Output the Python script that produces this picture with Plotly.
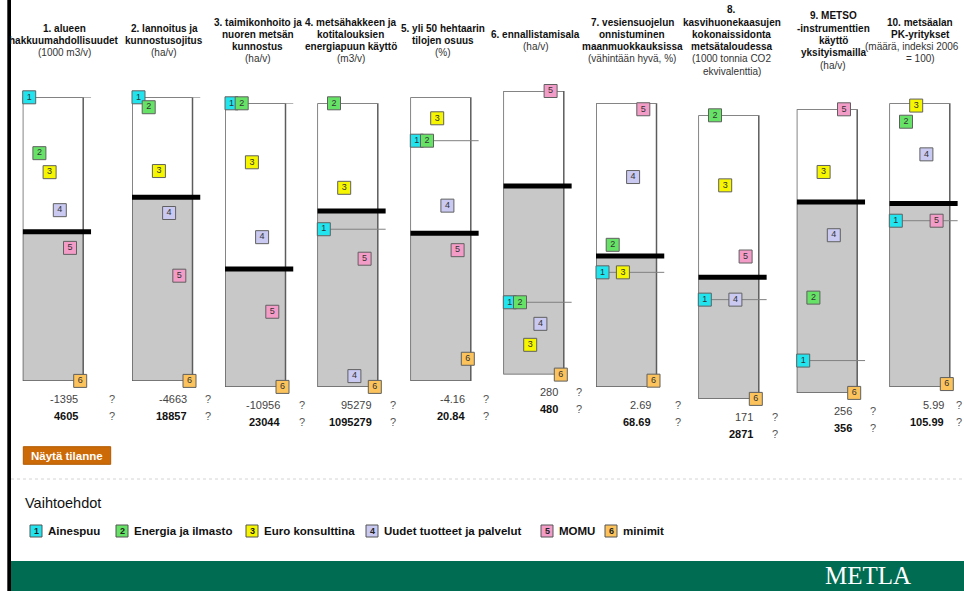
import plotly.graph_objects as go

W, H = 964, 591

# ---------------- data ----------------
TITLE_LINES = [
    ["1. alueen", "hakkuumahdollisuudet"],
    ["2. lannoitus ja", "kunnostusojitus"],
    ["3. taimikonhoito ja", "nuoren metsän", "kunnostus"],
    ["4. metsähakkeen ja", "kotitalouksien", "energiapuun käyttö"],
    ["5. yli 50 hehtaarin", "tilojen osuus"],
    ["6. ennallistamisala"],
    ["7. vesiensuojelun", "onnistuminen", "maanmuokkauksissa"],
    ["8.", "kasvihuonekaasujen", "kokonaissidonta", "metsätaloudessa"],
    ["9. METSO", "-instrumenttien", "käyttö", "yksityismailla"],
    ["10. metsäalan", "PK-yritykset"],
]
UNIT_LINES = [
    ["(1000 m3/v)"],
    ["(ha/v)"],
    ["(ha/v)"],
    ["(m3/v)"],
    ["(%)"],
    ["(ha/v)"],
    ["(vähintään hyvä, %)"],
    ["(1000 tonnia CO2", "ekvivalenttia)"],
    ["(ha/v)"],
    ["(määrä, indeksi 2006", "= 100)"],
]

SERIES_NAMES = ["Ainespuu", "Energia ja ilmasto", "Euro konsulttina",
                "Uudet tuotteet ja palvelut", "MOMU", "minimit"]

# positions of each alternative on each indicator scale (0 = bottom, 100 = top)
AINESPUU = [100, 100, 100, 55.6, 84.7, 25.5, 40.4, 35.0, 11.4, 58.6]
ENERGIA  = [80.3, 96.5, 100, 100, 84.7, 25.5, 50.1, 100, 33.6, 93.5]
EURO     = [73.6, 74.0, 79.2, 70.2, 92.6, 10.5, 40.4, 75.3, 77.9, 99.2]
UUDET    = [60.2, 59.2, 52.8, 3.8, 61.8, 17.9, 74.0, 35.0, 55.6, 82.0]
MOMU     = [46.9, 37.1, 26.5, 45.2, 46.1, 100, 97.9, 50.2, 100, 58.6]
MINIMIT  = [0, 0, 0, 0, 7.8, 0, 2.2, 0, 0, 1.0]
THRESHOLD = [52.6, 64.8, 41.6, 62.0, 52.1, 66.5, 46.2, 42.9, 67.3, 64.7]

CHANGE = [-1395, -4663, -10956, 95279, -4.16, 280, 2.69, 171, 256, 5.99]
TARGET = [4605, 18857, 23044, 1095279, 20.84, 480, 68.69, 2871, 356, 105.99]

SERIES = [AINESPUU, ENERGIA, EURO, UUDET, MOMU, MINIMIT]

# ---------------- layout / style ----------------
SERIES_COLORS = ["#22e4ee", "#66e266", "#f6f600", "#c9c9f2", "#f49cc8", "#fcc35c"]
BOX_LEFT = [22.7, 132.0, 225.0, 317.3, 410.3, 503.3, 596.0, 698.3, 796.7, 889.3]
BOX_TOP = [97.3, 97.3, 103.3, 103.3, 97.3, 91.0, 103.3, 115.3, 109.3, 103.3]
TITLE_CX = [64, 164, 257.5, 350.5, 443.3, 535.8, 632, 731.7, 833, 920]
QMARK_DX = [29, 15.7, 16, 15.3, 15, 15.3, 21, 16.3, 15.6, 9.5]
BOX_W, BOX_H, EXT = 60.5, 283.6, 8.0
FIRST, STEP = 6.5, 10.2
LEG_BOX = [30, 116, 246, 366, 541, 605]

FONT = "Liberation Sans, Arial, sans-serif"


def px(x):
    return x / W


def py(y):
    return 1 - y / H


def fmt(v):
    return str(int(v)) if float(v).is_integer() else f"{v:.2f}"


fig = go.Figure()
shapes = []
annotations = []
layout_axes = {}

u0 = 1 - FIRST / STEP
ub = 1 + (BOX_W - FIRST) / STEP
u1 = 1 + (BOX_W + EXT - FIRST) / STEP

for k in range(10):
    n = k + 1
    xname = "x" if n == 1 else f"x{n}"
    yname = "y" if n == 1 else f"y{n}"
    L, T = BOX_LEFT[k], BOX_TOP[k]
    layout_axes["xaxis" if n == 1 else f"xaxis{n}"] = dict(
        domain=[px(L), px(L + BOX_W + EXT)], range=[u0, u1], visible=False,
        anchor=yname, fixedrange=True)
    layout_axes["yaxis" if n == 1 else f"yaxis{n}"] = dict(
        domain=[py(T + BOX_H), py(T)], range=[0, 100], visible=False,
        anchor=xname, fixedrange=True)

    thr = THRESHOLD[k]
    shapes.append(dict(type="rect", xref=xname, yref=yname, x0=u0, x1=ub, y0=0, y1=thr,
                       fillcolor="#c8c8c8", line=dict(width=0), layer="below"))
    shapes.append(dict(type="rect", xref=xname, yref=yname, x0=u0, x1=ub, y0=0, y1=100,
                       line=dict(color="#5c5c5c", width=1.5), layer="below"))
    shapes.append(dict(type="line", xref=xname, yref=yname, x0=1, x1=u1,
                       y0=AINESPUU[k], y1=AINESPUU[k],
                       line=dict(color="#808080", width=1), layer="below"))
    shapes.append(dict(type="line", xref=xname, yref=yname, x0=u0, x1=u1, y0=thr, y1=thr,
                       line=dict(color="#000000", width=5), layer="below"))

    fig.add_trace(go.Scatter(
        x=list(range(1, 7)), y=[s[k] for s in SERIES], xaxis=xname, yaxis=yname,
        mode="markers+text", text=[str(i) for i in range(1, 7)],
        textposition="middle center",
        textfont=dict(size=9, color="#333333", family=FONT),
        marker=dict(symbol="square", size=13, color=SERIES_COLORS,
                    line=dict(color="#606060", width=1)),
        cliponaxis=False, showlegend=False, hoverinfo="skip"))

    # titles (kept inside the page: a line that would run past the right edge is nudged left)
    lines = [(t, True) for t in TITLE_LINES[k]] + [(t, False) for t in UNIT_LINES[k]]
    nl = len(lines)
    for j, (t, bold) in enumerate(lines):
        yy = 40.5 + (j - (nl - 1) / 2) * 12.3
        est_w = len(t) * (5.6 if bold else 5.0)
        cx = min(TITLE_CX[k], W - 2 - est_w / 2)
        annotations.append(dict(
            xref="paper", yref="paper", x=px(cx), y=py(yy),
            xanchor="center", yanchor="middle", showarrow=False,
            text=f"<b>{t}</b>" if bold else t,
            font=dict(size=10, family=FONT, color="#111111" if bold else "#333333")))

    # value labels
    bottom = T + BOX_H
    for val, dy, bold in [(CHANGE[k], 17.8, False), (TARGET[k], 34.6, True)]:
        annotations.append(dict(
            xref="paper", yref="paper", x=px(L + BOX_W - 3.5), y=py(bottom + dy),
            xanchor="right", yanchor="middle", showarrow=False,
            text=f"<b>{fmt(val)}</b>" if bold else fmt(val),
            font=dict(size=11, family=FONT, color="#111111" if bold else "#444444")))
        annotations.append(dict(
            xref="paper", yref="paper", x=px(L + BOX_W + QMARK_DX[k]), y=py(bottom + dy),
            xanchor="center", yanchor="middle", showarrow=False, text="?",
            font=dict(size=11, family=FONT, color="#555555")))

# button
shapes.append(dict(type="rect", xref="paper", yref="paper", x0=px(23.3), x1=px(110.7),
                   y0=py(464.3), y1=py(446.7), fillcolor="#cc6a08",
                   line=dict(color="#b05a00", width=1)))
annotations.append(dict(xref="paper", yref="paper", x=px(67), y=py(455.7),
                        xanchor="center", yanchor="middle", showarrow=False,
                        text="<b>Näytä tilanne</b>",
                        font=dict(size=11.5, family=FONT, color="#ffffff")))

# dotted separator
shapes.append(dict(type="line", xref="paper", yref="paper", x0=px(11), x1=1,
                   y0=py(479), y1=py(479), line=dict(color="#d4d4d4", width=1, dash="dot")))

annotations.append(dict(xref="paper", yref="paper", x=px(23.3), y=py(503.3),
                        xanchor="left", yanchor="middle", showarrow=False,
                        text="Vaihtoehdot",
                        font=dict(size=14.5, family=FONT, color="#111111")))

# legend
for i, name in enumerate(SERIES_NAMES):
    bx = LEG_BOX[i]
    shapes.append(dict(type="rect", xref="paper", yref="paper", x0=px(bx), x1=px(bx + 12),
                       y0=py(537), y1=py(525), fillcolor=SERIES_COLORS[i],
                       line=dict(color="#555555", width=1)))
    annotations.append(dict(xref="paper", yref="paper", x=px(bx + 6), y=py(531),
                            xanchor="center", yanchor="middle", showarrow=False,
                            text=f"<b>{i + 1}</b>",
                            font=dict(size=9, family=FONT, color="#222222")))
    annotations.append(dict(xref="paper", yref="paper", x=px(bx + 16), y=py(531),
                            xanchor="left", yanchor="middle", showarrow=False,
                            text=f"<b>{name}</b>",
                            font=dict(size=11.5, family=FONT, color="#111111")))

# footer band and left border
shapes.append(dict(type="rect", xref="paper", yref="paper", x0=px(11), x1=1,
                   y0=0, y1=py(561), fillcolor="#006c52", line=dict(width=0)))
shapes.append(dict(type="rect", xref="paper", yref="paper", x0=px(7.3), x1=px(11),
                   y0=0, y1=1, fillcolor="#000000", line=dict(width=0)))
annotations.append(dict(xref="paper", yref="paper", x=px(868), y=py(575.5),
                        xanchor="center", yanchor="middle", showarrow=False,
                        text="METLA",
                        font=dict(size=25, family="Liberation Serif, Times New Roman, serif",
                                  color="#ffffff")))

fig.update_layout(
    width=W, height=H, autosize=False,
    margin=dict(l=0, r=0, t=0, b=0, pad=0),
    paper_bgcolor="#ffffff", plot_bgcolor="rgba(0,0,0,0)",
    shapes=shapes, annotations=annotations, showlegend=False,
    **layout_axes)

fig.write_html("out.html", config={"displayModeBar": False},
               post_script="document.body.style.margin='0px';document.body.style.overflow='hidden';")
